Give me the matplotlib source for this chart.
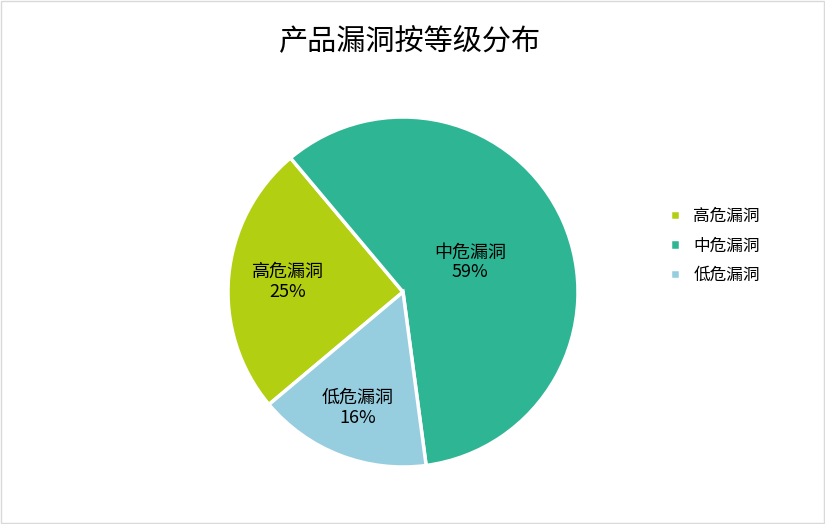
import matplotlib
matplotlib.use("Agg")
import matplotlib.pyplot as plt
import numpy as np

plt.rcParams['font.family'] = ['Noto Sans CJK SC', 'DejaVu Sans']

categories = ['高危漏洞', '中危漏洞', '低危漏洞']
values = [25, 59, 16]
colors = ['#b3cf12', '#2eb594', '#96cddf']
label_dist = [0.66, 0.42, 0.71]

fig = plt.figure(figsize=(8.25, 5.24), dpi=100)
fig.patches.append(plt.Rectangle((0.001, 0.001), 0.998, 0.998, transform=fig.transFigure,
                                 fill=False, edgecolor='#d9d9d9', linewidth=1))
R = 175
ax = fig.add_axes([(403 - R)/825, 1 - (292 + R)/524, 2*R/825, 2*R/524])
wedges, texts = ax.pie(values, colors=colors, startangle=220, counterclock=False,
                       wedgeprops=dict(edgecolor='white', linewidth=2.5))
ax.set_xlim(-1, 1)
ax.set_ylim(-1, 1)
for w, c, v, d in zip(wedges, categories, values, label_dist):
    ang = np.deg2rad((w.theta1 + w.theta2) / 2)
    ax.text(d * np.cos(ang), d * np.sin(ang), f'{c}\n{v}%', ha='center', va='center',
            fontsize=13, linespacing=1.1)
fig.text(410/825, 1 - 42/524, '产品漏洞按等级分布', ha='center', va='center', fontsize=21)
fig.legend(wedges, categories, loc='center left', bbox_to_anchor=(655/825, 1 - 246/524),
           frameon=False, fontsize=12, handlelength=0.6, handleheight=0.6,
           labelspacing=0.75, handletextpad=0.8)
fig.savefig('out.png', dpi=100)
